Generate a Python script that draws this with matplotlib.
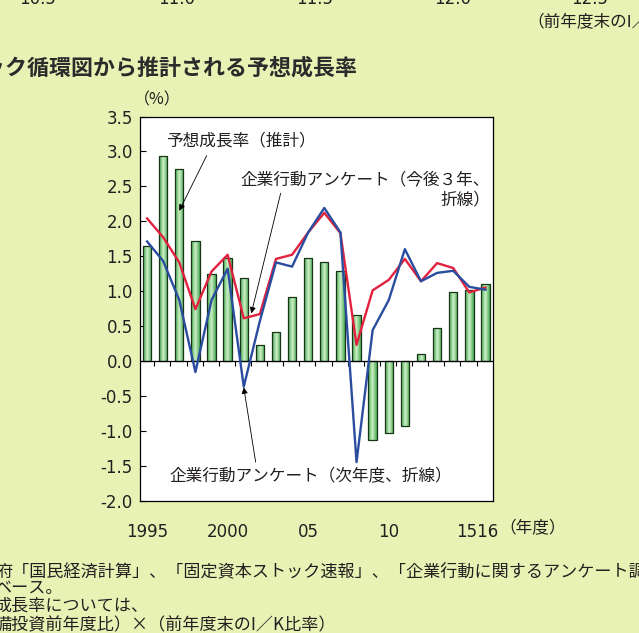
import numpy as np
import matplotlib
matplotlib.use("Agg")
import matplotlib.pyplot as plt
from matplotlib.colors import LinearSegmentedColormap


### DATA ###
years = list(range(1995, 2017))
growth_est = [1.65, 2.93, 2.75, 1.71, 1.24, 1.48, 1.19, 0.23, 0.42, 0.92, 1.47,
              1.42, 1.28, 0.65, -1.13, -1.04, -0.94, 0.10, 0.47, 0.99, 1.02, 1.10]
survey_3yr = [2.04, 1.77, 1.41, 0.74, 1.28, 1.52, 0.61, 0.67, 1.46, 1.52, 1.84,
              2.12, 1.83, 0.23, 1.01, 1.16, 1.46, 1.14, 1.40, 1.33, 0.98, 1.05]
survey_next = [1.71, 1.43, 0.87, -0.16, 0.87, 1.32, -0.37, 0.57, 1.41, 1.35, 1.84,
               2.19, 1.84, -1.45, 0.44, 0.87, 1.60, 1.14, 1.26, 1.29, 1.06, 1.02]
xtick_pos = [0, 5, 10, 15, 20.5]
xtick_labels = ["1995", "2000", "05", "10", "1516"]
yticks = [-2.0, -1.5, -1.0, -0.5, 0.0, 0.5, 1.0, 1.5, 2.0, 2.5, 3.0, 3.5]
top_numbers = ["10.5", "11.0", "11.5", "12.0", "12.5"]
top_number_x = [38, 177, 315, 453, 590]
notes = ["府「国民経済計算」、「固定資本ストック速報」、「企業行動に関するアンケート調査」により作成。",
         "ベース。",
         "成長率については、",
         "備投資前年度比）×（前年度末のI／K比率）"]


W, H = 639, 633
BG = "#e8f2b5"
TXT = "#231f20"
JP = ["Noto Sans CJK JP", "DejaVu Sans"]
NUM = ["DejaVu Sans"]


def px(x, y):
    return x / W, 1 - y / H


fig = plt.figure(figsize=(W / 100, H / 100), dpi=100, facecolor=BG)

l, b = px(139.5, 500.5)
r, t = px(493, 116.5)
ax = fig.add_axes([l, b, r - l, t - b])
ax.set_facecolor("white")

x = np.arange(len(years))


### BARS WITH GRADIENT ###
bars = ax.bar(x, growth_est, width=0.52, facecolor="none", edgecolor="#173517",
              linewidth=0.9, zorder=3)
cmap = LinearSegmentedColormap.from_list("bar", ["#d4f1cb", "#8ed290", "#4aa957"])
grad = (np.abs(np.linspace(-1, 1, 40)) ** 0.8)[None, :]
for bar in bars:
    x0 = bar.get_x()
    y0 = bar.get_y()
    y1 = y0 + bar.get_height()
    im = ax.imshow(grad, extent=(x0, x0 + bar.get_width(), min(y0, y1), max(y0, y1)),
                   cmap=cmap, aspect="auto", interpolation="bicubic", zorder=2)
    im.set_clip_path(bar)


### LINES ###
ax.plot(x, survey_3yr, color="#e2213f", lw=1.7, zorder=5)
ax.plot(x, survey_next, color="#2a4d9f", lw=1.7, zorder=6)

ax.axhline(0, color="black", lw=0.9, zorder=4)
ax.vlines(x[:-1] + 0.45, -0.08, 0, color="black", lw=0.8, zorder=4)

ax.set_xlim(-0.47, len(years) - 1 + 0.47)
ax.set_ylim(-2.0, 3.5)

ax.set_yticks(yticks)
ax.set_yticklabels([f"{v:.1f}" for v in yticks], fontsize=12, family=NUM, color=TXT)
ax.tick_params(axis="y", direction="in", length=4, width=0.8, pad=4.9)

ax.set_xticks(xtick_pos)
ax.set_xticklabels(xtick_labels, fontsize=12, family=NUM, color=TXT)
ax.tick_params(axis="x", length=0, pad=16)

for s in ax.spines.values():
    s.set_linewidth(0.9)
    s.set_color("black")


### ANNOTATIONS ###
arrow = dict(arrowstyle="-|>", lw=0.6, color="black", mutation_scale=9,
             shrinkA=0, shrinkB=0)
ax.annotate("", xy=(2.0, 2.15), xytext=(3.70, 2.94), arrowprops=arrow, zorder=7)
ax.annotate("", xy=(6.47, 0.68), xytext=(8.29, 2.40), arrowprops=arrow, zorder=7)
ax.annotate("", xy=(6.0, -0.38), xytext=(6.74, -1.45), arrowprops=arrow, zorder=7)

fig.text(*px(166, 141), "予想成長率（推計）", family=JP, fontsize=12,
         color=TXT, ha="left", va="center")
fig.text(*px(490, 190), "企業行動アンケート（今後３年、\n折線）", family=JP,
         fontsize=12, color=TXT, ha="right", va="center", multialignment="right",
         linespacing=1.2)
fig.text(*px(169, 477), "企業行動アンケート（次年度、折線）", family=JP,
         fontsize=12, color=TXT, ha="left", va="center")

fig.text(*px(499, 529), "（年度）", family=JP, fontsize=12, color=TXT,
         ha="left", va="center")
fig.text(*px(157, 100), "（%）", family=JP, fontsize=11.5, color=TXT,
         ha="center", va="center")


### SURROUNDING PAGE TEXT ###
for lab, xx in zip(top_numbers, top_number_x):
    fig.text(*px(xx, 4), lab, family=NUM, fontsize=12, color=TXT,
             ha="center", va="baseline")

fig.text(*px(527, 23), "（前年度末のI／K比率）", family=JP, fontsize=12,
         color=TXT, ha="left", va="center")

fig.text(*px(357, 68), "ストック循環図から推計される予想成長率", family=JP,
         fontsize=15.8, weight="bold", color="#2b2b2b", ha="right", va="center")

note_x = [-4, -6, -6, -5]
note_y = [571, 588, 606, 625]
for txt, xx, yy in zip(notes, note_x, note_y):
    fig.text(*px(xx, yy), txt, family=JP, fontsize=12.3, color=TXT,
             ha="left", va="center")


fig.savefig("out.png", dpi=100, facecolor=BG)
